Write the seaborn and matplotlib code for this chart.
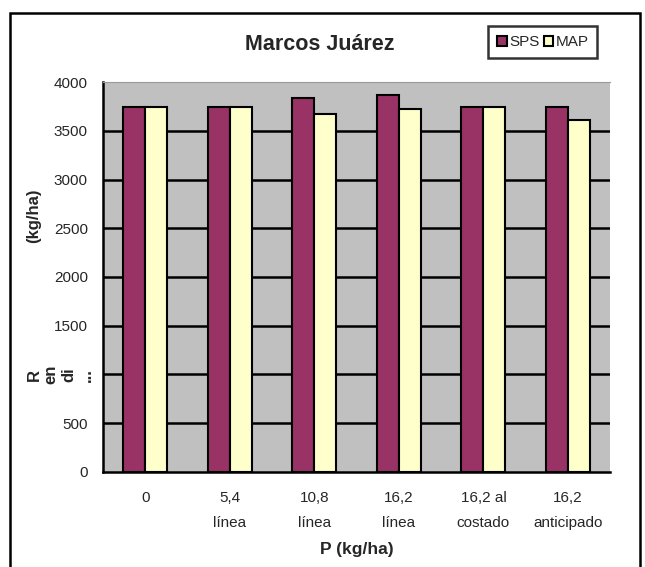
import numpy as np
import pandas as pd
import matplotlib
matplotlib.use("Agg")
import matplotlib.pyplot as plt
import seaborn as sns
from matplotlib.patches import Rectangle

# datos
categorias = ["0", "5,4\nlínea", "10,8\nlínea", "16,2\nlínea", "16,2 al\ncostado", "16,2\nanticipado"]
sps = [3750, 3750, 3835, 3870, 3750, 3750]
map_ = [3750, 3750, 3675, 3725, 3750, 3610]
fuentes = ["SPS", "MAP"]
yticks = [0, 500, 1000, 1500, 2000, 2500, 3000, 3500, 4000]
# en el original el 1000 queda tapado por la etiqueta cortada
ylabels = ["0", "500", "", "1500", "2000", "2500", "3000", "3500", "4000"]

df = pd.DataFrame({
    "P": categorias * 2,
    "Fuente": ["SPS"] * len(sps) + ["MAP"] * len(map_),
    "Rend": sps + map_,
})

sns.set_style("white")
plt.rcParams['font.family'] = ['Liberation Sans', 'DejaVu Sans']

fig = plt.figure(figsize=(6.45, 5.67), dpi=100)
ax = fig.add_axes([0.160, 0.168, 0.786, 0.687])
ax.set_facecolor("#c0c0c0")

sns.barplot(data=df, x="P", y="Rend", hue="Fuente", hue_order=fuentes,
            palette={"SPS": "#993366", "MAP": "#ffffcc"}, width=0.52, saturation=1,
            edgecolor="black", linewidth=1.5, ax=ax, zorder=3, legend=True)

ax.set_ylim(0, 4000)
ax.set_yticks(yticks)
ax.set_yticklabels(ylabels, fontsize=11)
for v in yticks[1:-1]:
    ax.axhline(v, color="black", lw=1.8, zorder=1)
ax.tick_params(axis="y", direction="out", length=5, width=1.5, color="black", pad=6)
ax.set_xticks(range(len(categorias)))
ax.set_xticklabels(categorias, fontsize=11, linespacing=1.95)
ax.tick_params(axis="x", length=0, pad=14)
ax.set_xlabel("P (kg/ha)", fontsize=12.5, fontweight="bold", labelpad=9)
ax.set_ylabel("")

for s in ["left", "bottom"]:
    ax.spines[s].set_color("black")
    ax.spines[s].set_linewidth(1.8)
ax.spines["top"].set_color("#999999")
ax.spines["right"].set_visible(False)

fig.text(0.495, 0.922, "Marcos Juárez", fontsize=15.5, fontweight="bold", ha="center", va="center")

# etiqueta eje y (cortada como en el original)
fig.text(0.052, 0.619, "(kg/ha)", rotation=90, fontsize=12, fontweight="bold",
         ha="center", va="center")
fig.text(0.093, 0.339, "R\nen\ndi\n...", rotation=90, fontsize=12, fontweight="bold",
         ha="center", va="center", linespacing=1.2)

leg = ax.legend(loc="upper left", bbox_to_anchor=(0.757, 0.954), bbox_transform=fig.transFigure,
                ncol=2, frameon=True, fancybox=False, fontsize=11, handlelength=0.6,
                handleheight=0.6, handletextpad=0.15, columnspacing=0.3, borderpad=0.6,
                borderaxespad=0)
leg.get_frame().set_edgecolor("black")
leg.get_frame().set_linewidth(1.8)

fig.patches.append(Rectangle((0.0155, -0.05), 0.977, 1.027, transform=fig.transFigure,
                             fill=False, edgecolor="black", lw=1.8))

fig.savefig("out.png", dpi=100)
